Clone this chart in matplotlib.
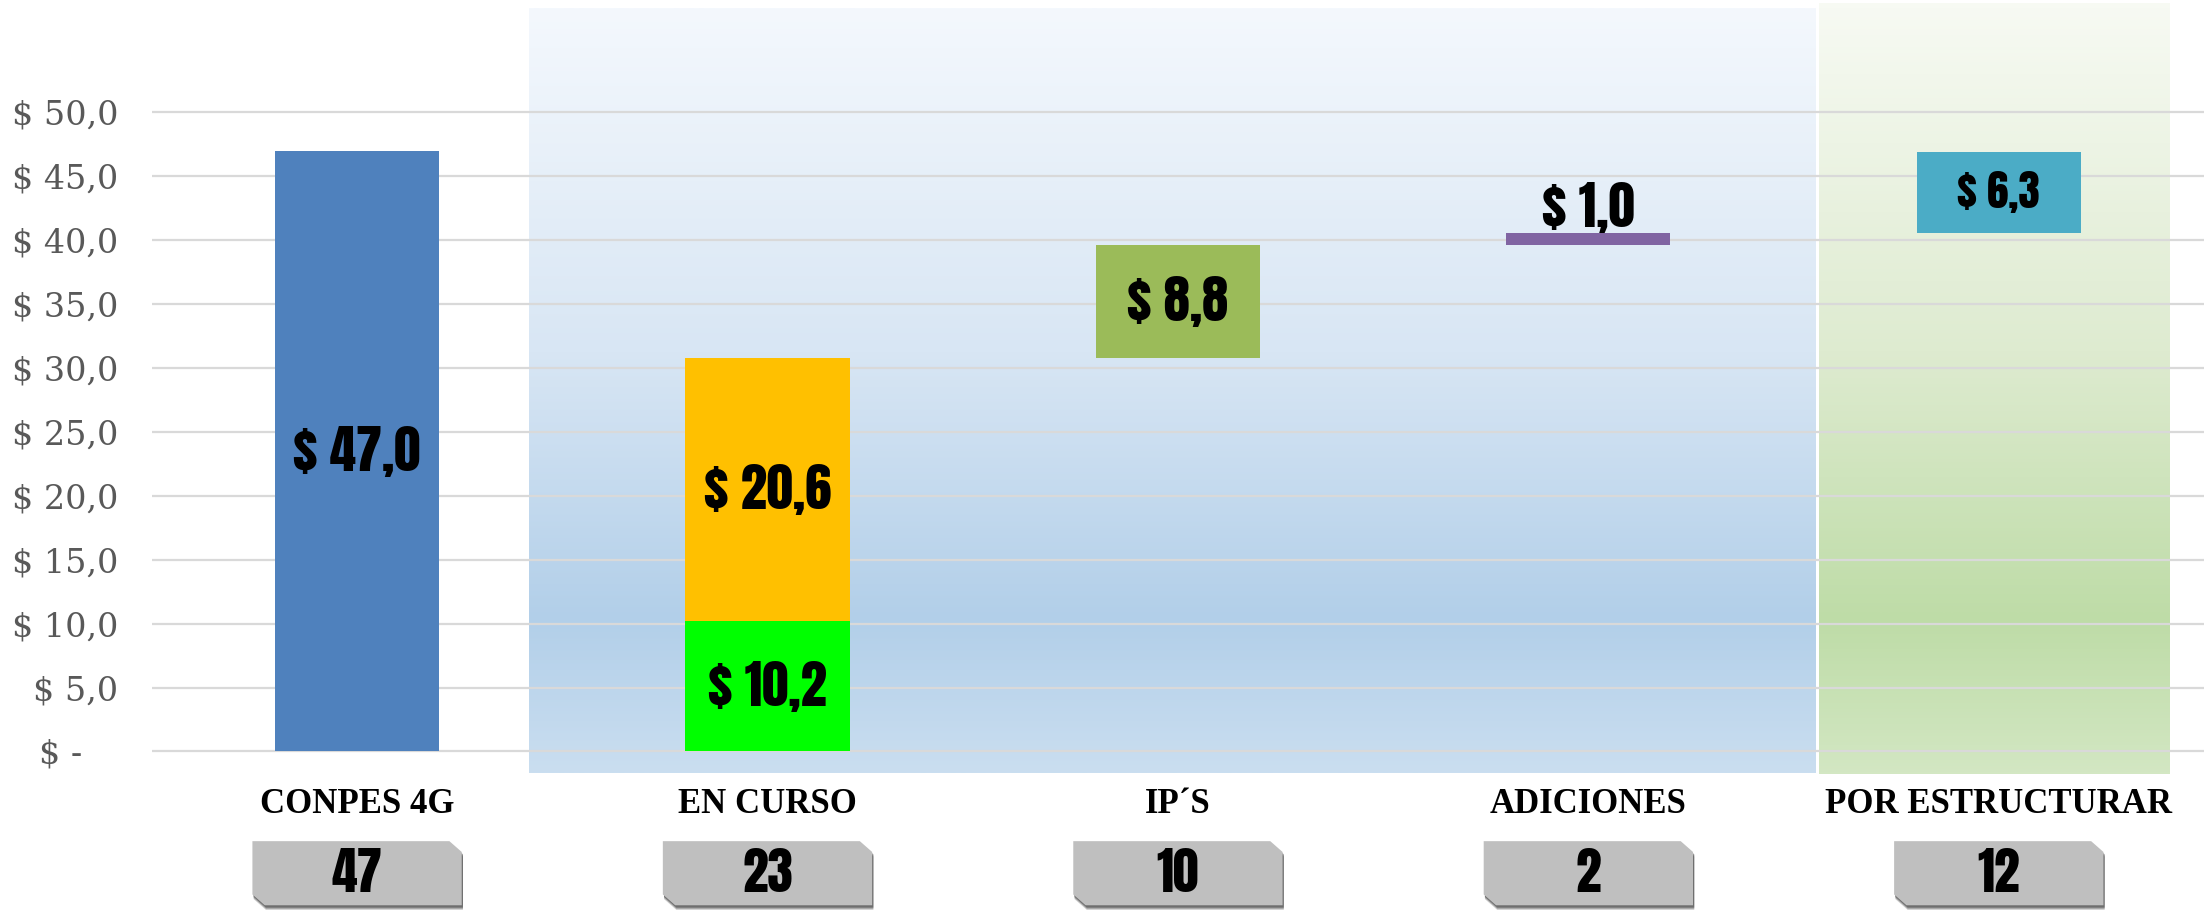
import numpy as np
import matplotlib
matplotlib.use("Agg")
import matplotlib.pyplot as plt
from matplotlib.colors import LinearSegmentedColormap
from matplotlib.patches import Polygon
from matplotlib.transforms import ScaledTranslation

# data (billions, waterfall)
categories = ["CONPES 4G", "EN CURSO", "IP´S", "ADICIONES", "POR ESTRUCTURAR"]
segments = [[47.0], [10.2, 20.6], [8.8], [1.0], [6.3]]
seg_colors = [["#4f81bd"], ["#00ff00", "#ffc000"], ["#9bbb59"], ["#8064a2"], ["#4bacc6"]]
project_counts = [47, 23, 10, 2, 12]
y_ticks = [0, 5, 10, 15, 20, 25, 30, 35, 40, 45, 50]

# impact-like condensed face, whatever is installed first
IMPACT = ["Anton", "Oswald", "Roboto Condensed", "DejaVu Sans"]


def money(v):
    return "$ " + f"{v:.1f}".replace(".", ",")


fig = plt.figure(figsize=(22.04, 9.13), dpi=100)
ax = fig.add_axes([0.0689, 0.1517, 0.9311, 0.8483])
for s in ax.spines.values():
    s.set_visible(False)

# gradient panels behind the bars
def gradient(x0, x1, y0, y1, stops):
    cmap = LinearSegmentedColormap.from_list("g", stops)
    grad = np.linspace(0, 1, 256).reshape(-1, 1)
    ax.imshow(grad, cmap=cmap, extent=[x0, x1, y0, y1], aspect="auto",
              origin="upper", zorder=0, interpolation="bilinear")

gradient(0.42, 3.555, -1.65, 58.2,
         [(0.0, "#f4f8fd"), (0.45, "#d8e6f4"), (0.8, "#b2cfe9"), (1.0, "#cadef0")])
gradient(3.562, 4.417, -2.0, 58.5,
         [(0.0, "#f7faf3"), (0.45, "#deebd0"), (0.8, "#bedca7"), (1.0, "#d3e7c3")])
ax.set_xlim(-0.5, 4.5)
ax.set_ylim(-1.8, 58.8)

# grid lines only up to 50
for t in y_ticks:
    ax.axhline(t, color="#d9d9d9", lw=1.6, zorder=0.5)

# waterfall bars
base = 0.0
for i, (segs, cols) in enumerate(zip(segments, seg_colors)):
    bottom = 0.0 if i == 0 else base
    for v, c in zip(segs, cols):
        ax.bar(i, v, bottom=bottom, width=0.40, color=c, zorder=2)
        fs = 31 if i == len(segments) - 1 else 38
        if v < 2:
            ax.text(i, bottom + v, money(v), ha="center", va="bottom", fontsize=fs,
                    family=IMPACT, zorder=3)
        else:
            ax.text(i, bottom + v / 2, money(v), ha="center", va="center", fontsize=fs,
                    family=IMPACT, zorder=3)
        bottom += v
    if i > 0:
        base = bottom

# axes ticks
ax.set_yticks(y_ticks)
ax.set_yticklabels([money(t) if t else "$ -" for t in y_ticks],
                   fontsize=24, family="DejaVu Serif", color="#595959")
ax.tick_params(axis="y", length=0, pad=24)
zero_lbl = ax.get_yticklabels()[0]
zero_lbl.set_transform(zero_lbl.get_transform() + ScaledTranslation(-0.36, 0, fig.dpi_scale_trans))

ax.set_xticks(range(len(categories)))
ax.set_xticklabels(categories, fontsize=25, fontweight="bold", family="Liberation Serif")
ax.tick_params(axis="x", length=0, pad=10)

# badges with the number of projects
bx = fig.add_axes([0.0689, 0.0, 0.9311, 0.0846])
bx.set_xlim(-0.5, 4.5)
bx.set_ylim(0, 1)
bx.axis("off")
hw, ch, cv = 0.255, 0.03, 0.14
for i, n in enumerate(project_counts):
    x0, x1, y0, y1 = i - hw, i + hw, 0.1, 0.93
    shape = [(x0, y1), (x1 - ch, y1), (x1, y1 - cv), (x1, y0), (x0 + ch, y0), (x0, y0 + cv)]
    # soft shadow, a few layers
    for k, a in enumerate([0.25, 0.35, 0.5]):
        off = 0.06 - 0.015 * k
        shadow = [(x + 0.003, y - off) for x, y in shape]
        bx.add_patch(Polygon(shadow, closed=True, color="#404040", alpha=a, lw=0, zorder=1))
    bx.add_patch(Polygon(shape, closed=True, color="#bfbfbf", lw=0, zorder=2))
    bx.text(i, (y0 + y1) / 2, str(n), ha="center", va="center", fontsize=37,
            family=IMPACT, zorder=3)

fig.savefig("out.png", dpi=100)
